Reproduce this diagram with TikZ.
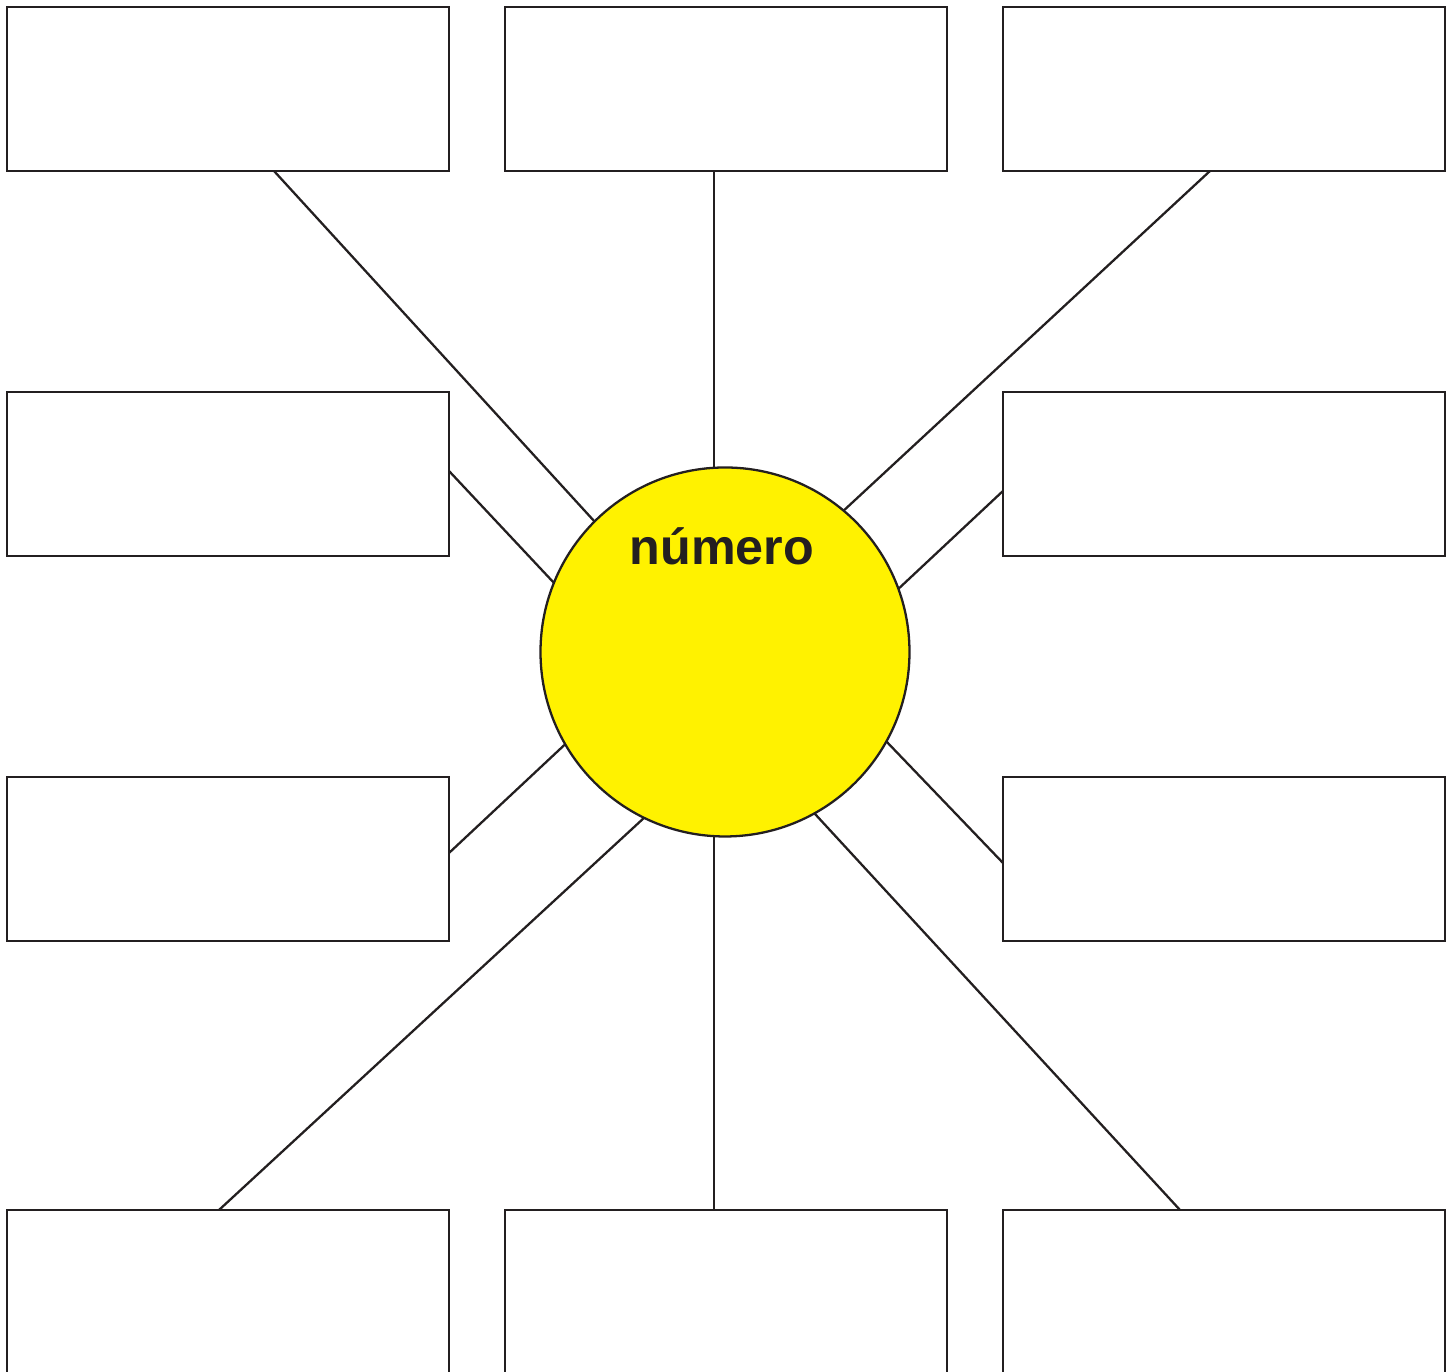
\documentclass[tikz,border=0pt]{standalone}
\usepackage{fontspec}
\setmainfont{Liberation Sans}
\usepackage{xcolor}
\usetikzlibrary{positioning,calc}

\definecolor{ink}{HTML}{231F20}
\definecolor{sun}{HTML}{FFF200}

\begin{document}
\begin{tikzpicture}[
      node distance=2.21cm and 0.56cm,
      line width=0.65pt, draw=ink,
      box/.style={draw=ink, rectangle, minimum height=1.64cm, minimum width=4.42cm, inner sep=0pt, outer sep=0pt},
      hub/.style={draw=ink, fill=sun, circle, minimum size=3.69cm, inner sep=0pt, outer sep=0pt},
      spoke/.style={draw=ink},
    ]
    \useasboundingbox (0,0) rectangle (14.54,13.72);
    \clip (0,0) rectangle (14.54,13.72);
    % boxes
    \node[box] (tl) at (2.28,12.83) {};
    \node[box, right=of tl] (tm) {};
    \node[box, right=of tm] (tr) {};
    \node[box, below=of tl] (ml) {};
    \node[box, below=of tr] (mr) {};
    \node[box, below=of ml] (ll) {};
    \node[box, below=of mr] (lr) {};
    \node[box, below=2.69cm of ll] (bl) {};
    \node[box, right=of bl] (bm) {};
    \node[box, right=of bm] (br) {};
    % centre
    \node[hub] (c) at (7.25,7.20) {};
    \node[anchor=base, text=ink, font=\bfseries\fontsize{14.3}{16}\selectfont] (word) at (7.22,8.07) {número};
    \coordinate (tmfoot) at ($(tm.south)+(-0.12,0)$);
    \coordinate (bmhead) at ($(bm.north)+(-0.12,0)$);
    % spokes
    \draw[spoke] ($(tl.south)+(0.46,0)$) -- (c.135);
    \draw[spoke] (tmfoot) -- (tmfoot |- c.north);
    \draw[spoke] ($(tr.south)+(-0.14,0)$) -- (c.50.9);
    \draw[spoke] ($(ml.east)+(0,0.03)$) -- (c.158.4);
    \draw[spoke] ($(mr.west)+(0,-0.17)$) -- (c.20.5);
    \draw[spoke] ($(ll.east)+(0,0.06)$) -- (c.210);
    \draw[spoke] ($(lr.west)+(0,-0.04)$) -- (c.331.8);
    \draw[spoke] ($(bl.north)+(-0.09,0)$) -- (c.244.7);
    \draw[spoke] (bmhead) -- (bmhead |- c.south);
    \draw[spoke] ($(br.north)+(-0.44,0)$) -- (c.299.3);
  \end{tikzpicture}
\end{document}
